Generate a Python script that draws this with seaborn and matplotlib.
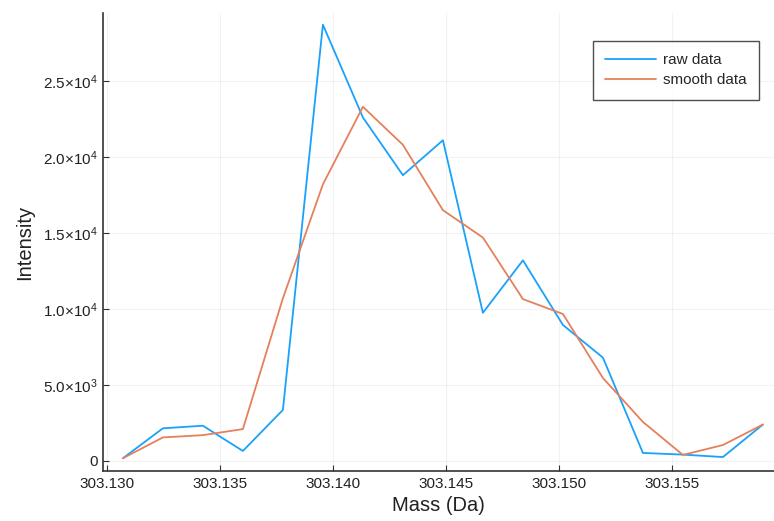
import numpy as np
import pandas as pd
import matplotlib
matplotlib.use("Agg")
import matplotlib.pyplot as plt
import seaborn as sns
from matplotlib.ticker import FuncFormatter, FixedLocator

# ---- data ----
mass = [303.13070, 303.13247, 303.13424, 303.13601, 303.13778, 303.13955,
        303.14132, 303.14309, 303.14486, 303.14663, 303.14840, 303.15017,
        303.15194, 303.15371, 303.15548, 303.15725, 303.15902]
raw = [180, 2150, 2320, 660, 3360, 28700, 22600, 18800, 21100, 9750,
       13200, 8950, 6800, 530, 420, 260, 2400]
smooth = [180, 1550, 1700, 2100, 10700, 18200, 23300, 20800, 16500, 14700,
          10650, 9670, 5460, 2570, 400, 1050, 2400]
series_names = ["raw data", "smooth data"]
x_ticks = [303.130, 303.135, 303.140, 303.145, 303.150, 303.155]
y_ticks = [0, 5000, 10000, 15000, 20000, 25000]

df = pd.DataFrame({
    "Mass (Da)": mass * 2,
    "Intensity": raw + smooth,
    "series": [series_names[0]] * len(mass) + [series_names[1]] * len(mass),
})

sns.set_theme(style="white")
plt.rcParams["font.family"] = ["Liberation Sans", "DejaVu Sans"]
plt.rcParams["mathtext.fontset"] = "custom"
plt.rcParams["mathtext.rm"] = "Liberation Sans"
plt.rcParams["mathtext.it"] = "Liberation Sans"

fig = plt.figure(figsize=(7.74, 5.21), dpi=100)
ax = fig.add_axes([103 / 774, 1 - 471 / 521, (774 - 103) / 774, (471 - 13) / 521])

sns.lineplot(data=df, x="Mass (Da)", y="Intensity", hue="series",
             palette=["#1AA1FA", "#E5805C"], linewidth=1.3, ax=ax)

ax.set_xlim(303.12982, 303.15951)
ax.set_ylim(-658, 29470)
ax.xaxis.set_major_locator(FixedLocator(x_ticks))
ax.yaxis.set_major_locator(FixedLocator(y_ticks))
ax.xaxis.set_major_formatter(FuncFormatter(lambda v, p: f"{v:.3f}"))


def yfmt(v, p):
    if v == 0:
        return "0"
    e = int(np.floor(np.log10(abs(v))))
    m = v / 10 ** e
    return r"$\mathrm{%.1f{\times}10^{%d}}$" % (m, e)


ax.yaxis.set_major_formatter(FuncFormatter(yfmt))
ax.grid(True, color="#000000", alpha=0.05, linewidth=0.8)
for s in ["top", "right"]:
    ax.spines[s].set_visible(False)
for s in ["left", "bottom"]:
    ax.spines[s].set_color("#333333")
    ax.spines[s].set_linewidth(1.2)
ax.tick_params(axis="both", direction="in", length=4, width=0.8,
               colors="#333333", labelsize=11, labelcolor="#222222",
               left=True, bottom=True, pad=4)
ax.set_xlabel("Mass (Da)", fontsize=14.5, color="#222222", labelpad=4)
ax.set_ylabel("Intensity", fontsize=14.5, color="#222222", labelpad=6)

leg = ax.legend(title=None, loc="upper right",
                bbox_to_anchor=((759 - 103) / 671, (471 - 41) / 458),
                borderaxespad=0.0,
                fontsize=11, frameon=True, fancybox=False, borderpad=0.8,
                handlelength=3.3, handletextpad=0.5, labelspacing=0.4)
leg.get_frame().set_edgecolor("#222222")
leg.get_frame().set_linewidth(1.0)

fig.savefig("out.png", dpi=100)
